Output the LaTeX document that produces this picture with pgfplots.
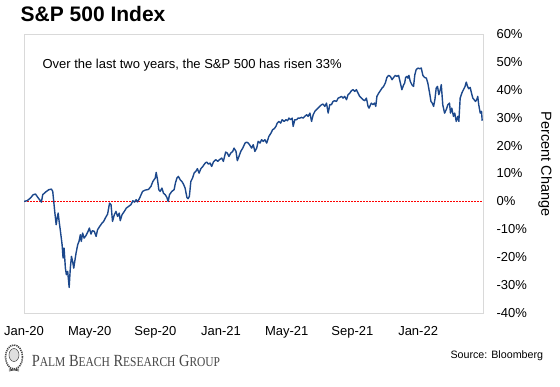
\documentclass[border=0pt]{standalone}
\usepackage{fontspec}
\setmainfont{Liberation Sans}
\newfontfamily\logofont{Liberation Serif}
\usepackage{graphicx}
\usepackage{pgfplots}
\pgfplotsset{compat=1.18}
\definecolor{spblue}{RGB}{28,72,140}
\definecolor{framegray}{RGB}{217,217,217}
\definecolor{logogray}{RGB}{70,70,70}
\definecolor{zred}{RGB}{255,0,0}
\begin{document}
\begin{tikzpicture}[x=1pt,y=1pt]
\fill[white] (0,0) rectangle (560,386);
\useasboundingbox (0,0) rectangle (560,386);
\begin{axis}[
  at={(24pt,73pt)}, anchor=south west,
  width=459pt, height=279pt, scale only axis,
  xmin=0, xmax=27.95, ymin=-40, ymax=60,
  axis line style={draw=framegray, line width=0.8pt},
  xtick={0,4,8,12,16,20,24},
  xticklabels={Jan-20,May-20,Sep-20,Jan-21,May-21,Sep-21,Jan-22},
  ytick={-40,-30,-20,-10,0,10,20,30,40,50,60},
  yticklabels={-40\%,-30\%,-20\%,-10\%,0\%,10\%,20\%,30\%,40\%,50\%,60\%},
  yticklabel pos=right,
  major tick length=0pt,
  tick label style={font=\fontsize{13}{13}\selectfont},
  xticklabel style={yshift=-10pt},
  yticklabel style={anchor=west, xshift=10pt},
]
\addplot[draw=zred, line width=1.5pt, dash pattern=on 2pt off 1pt, mark=none] coordinates {(0,0) (27.95,0)};
\addplot[draw=spblue, line width=1.4pt, line join=round, mark=none] coordinates {
(0,0) (0.19,0.25) (0.39,1.18) (0.56,2.40) (0.70,2.62) (0.80,1.79) (0.90,0.97) (1.00,0.25) (1.06,-0.25)
(1.14,2.40) (1.31,3.33) (1.51,4.19) (1.67,4.41) (1.75,3.58) (1.81,0) (1.87,-3.58) (1.96,-8.35)
(2.02,-5.99) (2.08,-4.19) (2.14,-7.17) (2.22,-10.75) (2.32,-15.52) (2.38,-20.32) (2.44,-16.74)
(2.52,-23.91) (2.58,-26.27) (2.66,-25.09) (2.75,-30.82) (2.82,-23.91) (2.89,-19.71) (2.96,-21.51)
(3.03,-23.91) (3.09,-21.51) (3.17,-18.53) (3.27,-15.52) (3.35,-14.34) (3.43,-11.94) (3.49,-14.34)
(3.57,-11.36) (3.66,-13.15) (3.78,-12.19) (3.90,-10.75) (3.98,-9.57) (4.08,-11.72) (4.16,-10.50)
(4.28,-10.75) (4.39,-12.54) (4.48,-10.14) (4.61,-8.96) (4.75,-7.78) (4.85,-7.17) (4.95,-5.99)
(5.09,-4.55) (5.21,-0.61) (5.30,-1.18) (5.39,-7.17) (5.50,-4.77) (5.60,-3.58) (5.70,-5.38)
(5.80,-4.19) (5.86,-6.92) (5.97,-4.77) (6.11,-3.58) (6.23,-2.40) (6.37,-1.79) (6.51,-1.18)
(6.63,0.25) (6.73,-0.25) (6.83,0.61) (6.91,-0.20) (7.04,1.18) (7.22,3.58) (7.38,4.05) (7.58,4.30)
(7.73,5.38) (7.85,7.17) (7.99,8.35) (8.05,10.39) (8.13,7.78) (8.21,4.19) (8.29,3.58) (8.40,4.77)
(8.49,2.97) (8.60,2.40) (8.70,1.43) (8.78,0) (8.86,2.40) (9.00,3.58) (9.14,4.19) (9.22,6.56)
(9.31,8.35) (9.40,8.96) (9.51,7.78) (9.61,7.17) (9.71,6.20) (9.81,4.77) (9.92,1.43) (9.99,0.97)
(10.07,1.79) (10.16,7.17) (10.26,8.35) (10.36,10.14) (10.46,10.75) (10.56,11.72) (10.66,10.14)
(10.77,11.72) (10.89,12.54) (11.03,13.73) (11.13,14.09) (11.23,13.37) (11.33,13.73) (11.43,12.54)
(11.53,14.09) (11.68,14.95) (11.80,14.34) (11.90,14.95) (12.04,15.52) (12.14,14.34) (12.28,17.67)
(12.38,17.31) (12.48,16.13) (12.59,17.31) (12.71,17.92) (12.79,19.10) (12.91,17.92) (12.99,14.59)
(13.09,16.13) (13.20,17.92) (13.32,19.10) (13.46,20.90) (13.56,21.25) (13.66,20.90) (13.76,20.07)
(13.86,19.10) (13.96,20.32) (14.06,17.92) (14.17,19.10) (14.26,21.51) (14.37,20.90) (14.47,22.11)
(14.57,21.51) (14.67,22.11) (14.78,20.90) (14.91,23.30) (15.04,24.48) (15.14,25.70) (15.24,26.06)
(15.34,26.88) (15.42,28.06) (15.52,28.67) (15.63,28.06) (15.72,29.28) (15.84,28.67) (15.95,29.28)
(16.05,28.92) (16.13,29.86) (16.23,29.28) (16.33,29.86) (16.39,26.88) (16.49,29.28) (16.60,29.28)
(16.69,29.86) (16.80,29.86) (16.90,30.11) (17.00,29.86) (17.10,30.47) (17.21,31.07) (17.30,30.47)
(17.41,31.65) (17.51,28.67) (17.61,31.07) (17.71,32.26) (17.81,32.87) (17.91,33.44) (18.01,34.05)
(18.12,34.66) (18.21,34.87) (18.32,34.05) (18.42,35.23) (18.52,31.65) (18.62,34.66) (18.72,34.66)
(18.82,35.84) (18.92,36.09) (19.03,35.84) (19.13,37.02) (19.23,37.27) (19.33,37.63) (19.43,37.02)
(19.53,37.63) (19.64,36.45) (19.73,38.24) (19.84,38.82) (19.94,39.68) (20.04,40.04) (20.14,39.43)
(20.24,40.04) (20.34,38.82) (20.44,37.63) (20.55,37.02) (20.64,36.45) (20.75,36.09) (20.85,37.02)
(20.95,34.05) (21.01,33.44) (21.15,35.23) (21.25,34.66) (21.35,35.23) (21.42,34.05) (21.49,37.63)
(21.60,38.82) (21.70,39.68) (21.80,40.61) (21.90,41.22) (22.00,42.40) (22.10,44.44) (22.20,45.16)
(22.31,44.80) (22.41,43.62) (22.51,44.44) (22.61,45.16) (22.71,44.80) (22.81,45.16) (22.92,42.40)
(23.01,40.04) (23.12,41.83) (23.18,42.40) (23.24,44.44) (23.32,44.80) (23.38,44.19) (23.44,45.16)
(23.52,43.01) (23.62,41.83) (23.72,41.22) (23.80,45.41) (23.88,47.20) (23.99,47.78) (24.09,47.56)
(24.19,47.78) (24.29,45.16) (24.39,44.44) (24.50,44.19) (24.59,42.40) (24.70,38.82) (24.78,35.84)
(24.86,35.23) (24.94,34.05) (25.02,36.45) (25.10,40.61) (25.18,41.22) (25.26,38.24) (25.35,40.04)
(25.41,41.83) (25.50,34.66) (25.61,31.65) (25.71,32.87) (25.81,34.66) (25.91,35.23) (25.97,31.65)
(26.05,33.44) (26.15,30.47) (26.23,31.65) (26.32,28.67) (26.42,30.47) (26.48,28.67) (26.56,37.02)
(26.66,38.82) (26.76,40.04) (26.86,41.22) (26.93,42.76) (27.01,41.22) (27.08,40.39) (27.17,40.86)
(27.25,38.82) (27.33,37.02) (27.41,36.45) (27.49,35.84) (27.57,36.45) (27.63,37.63) (27.69,34.66)
(27.78,31.65) (27.86,32.26) (27.90,28.92)
};
\end{axis}
% title and texts
\node[anchor=base west, inner sep=0pt, font=\fontsize{21}{21}\selectfont\bfseries] at (20.5,364) {S\&P 500 Index};
\node[anchor=base west, inner sep=0pt, font=\fontsize{13}{13}\selectfont] at (42.3,317) {Over the last two years, the S\&P 500 has risen 33\%};
\node[rotate=-90, inner sep=0pt, font=\fontsize{14.5}{14.5}\selectfont] at (545,222) {Percent Change};
\node[anchor=base east, inner sep=0pt, font=\fontsize{10.7}{10.7}\selectfont] at (543.3,27.2) {Source: Bloomberg};
% logo
\node[anchor=base west, inner sep=0pt, text=logogray] at (31.7,19.3) {\scalebox{0.85}[1]{\logofont{\fontsize{17}{17}\selectfont P}{\fontsize{13.5}{13.5}\selectfont ALM}\fontsize{17}{17}\selectfont\ {\fontsize{17}{17}\selectfont B}{\fontsize{13.5}{13.5}\selectfont EACH}\ {\fontsize{17}{17}\selectfont R}{\fontsize{13.5}{13.5}\selectfont ESEARCH}\ {\fontsize{17}{17}\selectfont G}{\fontsize{13.5}{13.5}\selectfont ROUP}}};
\draw[logogray, line width=1.6pt, dash pattern=on 1.2pt off 0.9pt] (14,29) ellipse (8.5 and 12);
\draw[logogray, line width=0.5pt, fill=gray!25] (14,31) ellipse (5 and 6.5);
\draw[logogray, line width=0.7pt] (9,17) -- (19,15) (9,15) -- (19,17);
\end{tikzpicture}
\end{document}
